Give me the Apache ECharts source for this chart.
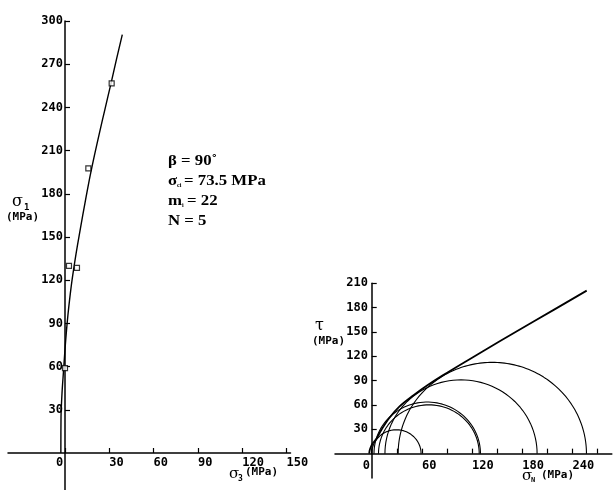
<!DOCTYPE html>
<html>
<head>
<meta charset="utf-8">
<script src="https://cdn.jsdelivr.net/npm/echarts@6/dist/echarts.min.js"></script>
<style>
html,body{margin:0;padding:0;background:#fff;}
#c{width:616px;height:490px;}
</style>
</head>
<body>
<div id="c"></div>
<script>
// ---- data ----
// left panel: sigma3 / sigma1 axis ticks
const s3Ticks = [0, 30, 60, 90, 120, 150];
const s1Ticks = [30, 60, 90, 120, 150, 180, 210, 240, 270, 300];
// right panel ticks / labels
const snTicks = [0, 30, 60, 90, 120, 150, 180, 210, 240, 270];
const snLabels = [0, 60, 120, 180, 240];
const tauTicks = [30, 60, 90, 120, 150, 180, 210];

// fitted failure curve (sigma3, sigma1) in MPa
const curveS3 = [-2.8, -2.7, -2.0, -1.0, 0, 1.0, 2.0, 3.0, 4.3, 5.6, 7.5, 9.5, 12, 14.5, 17, 20, 23.5, 27, 31, 35, 38.8];
const curveS1 = [0, 25, 42, 57, 72, 85, 96, 105.5, 116.5, 126, 138.5, 150.5, 165, 179, 192.5, 207, 223, 238.5, 256, 274, 290.5];

// test points (sigma3, sigma1) in MPa
const testS3 = [0, 2.7, 8.1, 15.8, 31.6];
const testS1 = [59, 130, 128.5, 197.7, 256.7];

// Mohr envelope (sigmaN, tau) in MPa
const envSn  = [-3, -2.5, -1, 1, 5, 12, 21, 33, 50, 67, 85, 113, 153, 193, 257];
const envTau = [0, 4, 8.5, 12.5, 17.5, 30, 44, 58, 72, 84.5, 96.5, 114, 138.5, 162.5, 201];

// ---- build option ----
const tickFont = { fontFamily: 'DejaVu Sans Mono', fontWeight: 'bold', fontSize: 12, color: '#000' };
const lineCol = '#000';

function zip(a, b) { return a.map((v, i) => [v, b[i]]); }

// semicircle through (s3,0) and (s1,0)
function mohr(s3, s1) {
  const c = (s1 + s3) / 2, r = (s1 - s3) / 2, pts = [];
  for (let k = 0; k <= 120; k++) {
    const a = Math.PI * k / 120;
    pts.push([c + r * Math.cos(a), r * Math.sin(a)]);
  }
  return pts;
}

const series = [
  {
    type: 'line', xAxisIndex: 0, yAxisIndex: 0, data: zip(curveS3, curveS1),
    smooth: 0.3, showSymbol: false, lineStyle: { color: lineCol, width: 1.4 }, z: 3
  },
  {
    type: 'scatter', xAxisIndex: 0, yAxisIndex: 0, data: zip(testS3, testS1),
    symbol: 'rect', symbolSize: 5,
    itemStyle: { color: '#fff', borderColor: '#000', borderWidth: 1.2 }, z: 4
  },
  {
    type: 'line', xAxisIndex: 1, yAxisIndex: 1, data: zip(envSn, envTau),
    smooth: 0.35, showSymbol: false, lineStyle: { color: lineCol, width: 1.8 }, z: 4
  }
];
testS3.forEach((s3, i) => {
  series.push({
    type: 'line', xAxisIndex: 1, yAxisIndex: 1, data: mohr(s3, testS1[i]),
    showSymbol: false, lineStyle: { color: lineCol, width: 1.1 }, z: 3
  });
});

function xLabelFmt(v) { return v === 0 ? '{z|0}' : String(v); }
const zRich = { z: { fontFamily: 'DejaVu Sans Mono', fontWeight: 'bold', fontSize: 12, color: '#000', padding: [0, 0, 0, -9] } };

const axisLineStyle = { color: '#000', width: 1.5 };

const option = {
  animation: false,
  backgroundColor: '#fff',
  grid: [
    { left: 8, top: 21, width: 282.5, height: 469, containLabel: false, outerBoundsMode: 'none' },
    { left: 335, top: 283.3, width: 276.8, height: 194.7, containLabel: false, outerBoundsMode: 'none' }
  ],
  xAxis: [
    {
      type: 'value', gridIndex: 0, min: -38.6, max: 152.7,
      splitLine: { show: false },
      axisLine: { show: true, onZero: true, lineStyle: axisLineStyle },
      axisTick: { show: true, inside: true, length: 5, customValues: s3Ticks, lineStyle: { color: '#000', width: 1.2 } },
      axisLabel: Object.assign({ customValues: s3Ticks, align: 'left', margin: -33, formatter: xLabelFmt, rich: zRich }, tickFont)
    },
    {
      type: 'value', gridIndex: 1, min: -43.9, max: 287,
      splitLine: { show: false },
      axisLine: { show: true, onZero: true, lineStyle: axisLineStyle },
      axisTick: { show: true, inside: true, length: 5, customValues: snTicks, lineStyle: { color: '#000', width: 1.2 } },
      axisLabel: Object.assign({ customValues: snLabels, align: 'left', margin: -18.5, formatter: xLabelFmt, rich: zRich }, tickFont)
    }
  ],
  yAxis: [
    {
      type: 'value', gridIndex: 0, min: -25.7, max: 300,
      splitLine: { show: false },
      axisLine: { show: true, onZero: true, lineStyle: axisLineStyle },
      axisTick: { show: true, inside: true, length: 5, customValues: s1Ticks, lineStyle: { color: '#000', width: 1.2 } },
      axisLabel: Object.assign({ customValues: s1Ticks, margin: -55, padding: [0, 0, 4, 0] }, tickFont)
    },
    {
      type: 'value', gridIndex: 1, min: -30, max: 210,
      splitLine: { show: false },
      axisLine: { show: true, onZero: true, lineStyle: axisLineStyle },
      axisTick: { show: true, inside: true, length: 5, customValues: tauTicks, lineStyle: { color: '#000', width: 1.2 } },
      axisLabel: Object.assign({ customValues: tauTicks, margin: -33, padding: [0, 0, 3, 0] }, tickFont)
    }
  ],
  graphic: [
    // left y title
    { type: 'text', x: 12, y: 194, style: { text: 'σ', font: '16px "DejaVu Serif"', fill: '#000' } },
    { type: 'text', x: 24, y: 203, style: { text: '1', font: 'bold 9px "DejaVu Sans Mono"', fill: '#000' } },
    { type: 'text', x: 6, y: 212, style: { text: '(MPa)', font: 'bold 11px "DejaVu Sans Mono"', fill: '#000' } },
    // left x title
    { type: 'text', x: 229, y: 467, style: { text: 'σ', font: '15px "DejaVu Serif"', fill: '#000' } },
    { type: 'text', x: 238, y: 475, style: { text: '3', font: 'bold 8px "DejaVu Sans Mono"', fill: '#000' } },
    { type: 'text', x: 245, y: 467, style: { text: '(MPa)', font: 'bold 11px "DejaVu Sans Mono"', fill: '#000' } },
    // right y title
    { type: 'text', x: 315, y: 318, style: { text: 'τ', font: '16px "DejaVu Serif"', fill: '#000' } },
    { type: 'text', x: 312, y: 336, style: { text: '(MPa)', font: 'bold 11px "DejaVu Sans Mono"', fill: '#000' } },
    // right x title
    { type: 'text', x: 522, y: 469, style: { text: 'σ', font: '15px "DejaVu Serif"', fill: '#000' } },
    { type: 'text', x: 531, y: 477, style: { text: 'N', font: 'bold 7px "DejaVu Sans Mono"', fill: '#000' } },
    { type: 'text', x: 541, y: 470, style: { text: '(MPa)', font: 'bold 11px "DejaVu Sans Mono"', fill: '#000' } },
    // annotation
    { type: 'text', x: 168, y: 154, scaleX: 1.12, style: { text: 'β = 90˚', font: 'bold 15px "Liberation Serif"', fill: '#000' } },
    { type: 'text', x: 168, y: 174, scaleX: 1.12, style: { text: 'σ', font: 'bold 15px "Liberation Serif"', fill: '#000' } },
    { type: 'text', x: 177, y: 182, style: { text: 'ci', font: 'bold 6px "Liberation Serif"', fill: '#000' } },
    { type: 'text', x: 184, y: 174, scaleX: 1.12, style: { text: '= 73.5 MPa', font: 'bold 15px "Liberation Serif"', fill: '#000' } },
    { type: 'text', x: 168, y: 194, scaleX: 1.12, style: { text: 'm', font: 'bold 15px "Liberation Serif"', fill: '#000' } },
    { type: 'text', x: 182, y: 202, style: { text: 'i', font: 'bold 6px "Liberation Serif"', fill: '#000' } },
    { type: 'text', x: 187, y: 194, scaleX: 1.12, style: { text: '= 22', font: 'bold 15px "Liberation Serif"', fill: '#000' } },
    { type: 'text', x: 168, y: 214, scaleX: 1.12, style: { text: 'N = 5', font: 'bold 15px "Liberation Serif"', fill: '#000' } }
  ],
  series: series
};

const chart = echarts.init(document.getElementById('c'), null, { renderer: 'canvas' });
chart.setOption(option);
</script>
</body>
</html>
